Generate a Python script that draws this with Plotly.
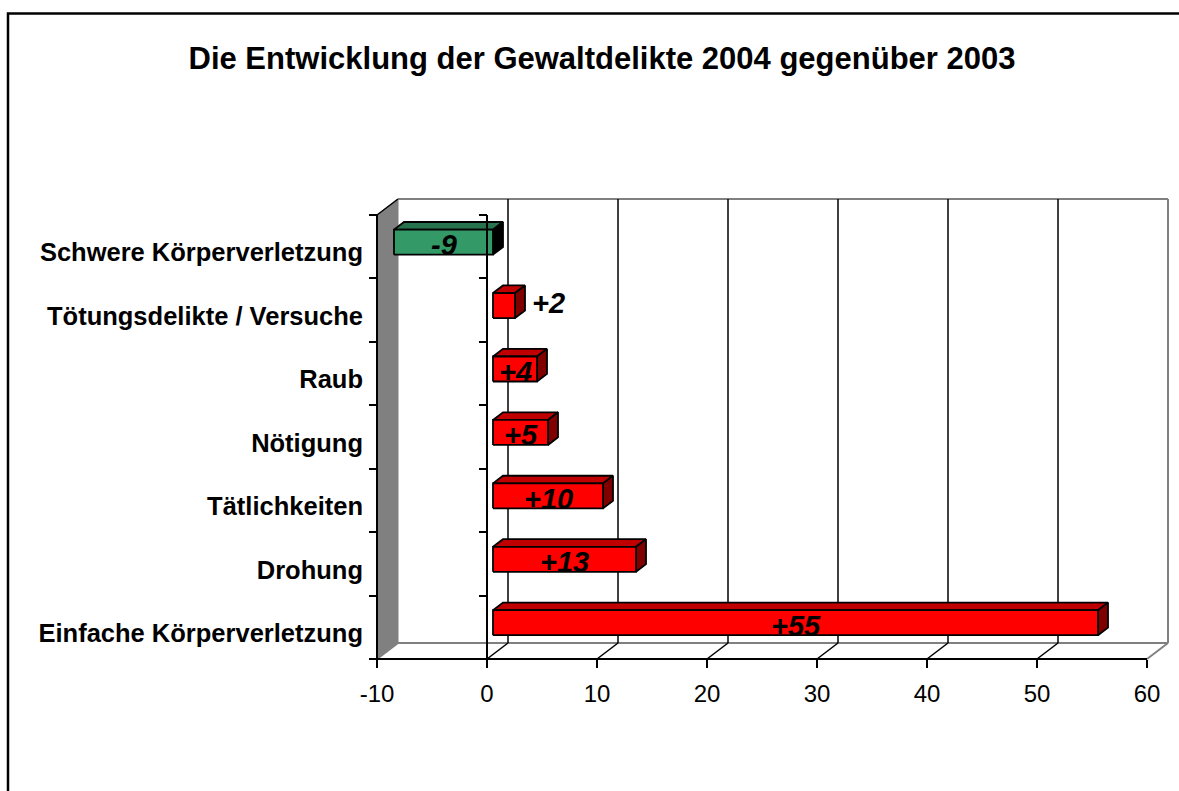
import plotly.graph_objects as go

# ---------------- data ----------------
categories = [
    "Einfache Körperverletzung",
    "Drohung",
    "Tätlichkeiten",
    "Nötigung",
    "Raub",
    "Tötungsdelikte / Versuche",
    "Schwere Körperverletzung",
]
values = [55, 13, 10, 5, 4, 2, -9]
value_labels = ["+55", "+13", "+10", "+5", "+4", "+2", "-9"]
x_ticks = [-10, 0, 10, 20, 30, 40, 50, 60]
title_text = "Die Entwicklung der Gewaltdelikte 2004 gegenüber 2003"

# ---------------- styling / geometry ----------------
FONT = "Arial, 'Liberation Sans', Helvetica, sans-serif"
W, H = 1179, 791
XMIN, XMAX = x_ticks[0], x_ticks[-1]
N = len(categories)
YMIN, YTOP = -0.5, N - 0.5

FRONT_LEFT_PX, FRONT_BOTTOM_PX = 377, 659
PXX = 11.0                       # px per x unit
PXY = 444.0 / N                  # px per category
DEPTH_PX = (21.0, 16.0)          # 3D depth offset (px)
PAD = 4
plot_l = FRONT_LEFT_PX - PAD
plot_r = int(FRONT_LEFT_PX + (XMAX - XMIN) * PXX + DEPTH_PX[0] + PAD)
plot_b = FRONT_BOTTOM_PX + PAD
plot_t = int(FRONT_BOTTOM_PX - N * PXY - DEPTH_PX[1] - PAD)

x_lo = XMIN - (FRONT_LEFT_PX - plot_l) / PXX
x_hi = XMIN + (plot_r - FRONT_LEFT_PX) / PXX
y_lo = YMIN - (plot_b - FRONT_BOTTOM_PX) / PXY
y_hi = YMIN + (FRONT_BOTTOM_PX - plot_t) / PXY

DX = DEPTH_PX[0] / PXX
DY = DEPTH_PX[1] / PXY
D0, D1 = 6.0 / 21.0, 16.0 / 21.0   # bar front/back depth fractions
HH = 12.5 / PXY                    # half bar height

RED, RED_TOP, RED_SIDE = "#FF0000", "#C00000", "#800000"
GRN, GRN_TOP, GRN_SIDE = "#339966", "#26734D", "#000000"
WALL = "#808080"

fig = go.Figure()


def poly(xs, ys, fill, line="black", width=1.8):
    fig.add_trace(go.Scatter(
        x=list(xs) + [xs[0]], y=list(ys) + [ys[0]], mode="lines",
        fill="toself", fillcolor=fill, line=dict(color=line, width=width),
        hoverinfo="skip", showlegend=False))


def segs(pairs, color, width):
    xs, ys = [], []
    for (a, b), (c, d) in pairs:
        xs += [a, c, None]
        ys += [b, d, None]
    fig.add_trace(go.Scatter(x=xs, y=ys, mode="lines",
                             line=dict(color=color, width=width),
                             hoverinfo="skip", showlegend=False))


# ---- walls ----
poly([XMIN, XMIN, XMIN + DX, XMIN + DX], [YMIN, YTOP, YTOP + DY, YMIN + DY],
     WALL, line=WALL, width=1)
# back wall outline (grey)
segs([((XMIN + DX, YTOP + DY), (XMAX + DX, YTOP + DY)),
      ((XMAX + DX, YTOP + DY), (XMAX + DX, YMIN + DY)),
      ((XMAX + DX, YMIN + DY), (XMIN + DX, YMIN + DY)),
      ((XMAX, YMIN), (XMAX + DX, YMIN + DY)),
      ((XMIN, YMIN), (XMIN + DX, YMIN + DY))], WALL, 2)
# gridlines on back wall and floor
inner = [t for t in x_ticks if XMIN < t < XMAX]
segs([((t + DX, YMIN + DY), (t + DX, YTOP + DY)) for t in inner]
     + [((t, YMIN), (t + DX, YMIN + DY)) for t in inner], "black", 1.5)
# top edge of side wall
segs([((XMIN, YTOP), (XMIN + DX, YTOP + DY))], "black", 1.5)

# ---- bars ----
for i, v in enumerate(values):
    x0, x1 = min(0, v), max(0, v)
    col, top, side = (RED, RED_TOP, RED_SIDE) if v >= 0 else (GRN, GRN_TOP, GRN_SIDE)
    fx0, fx1 = x0 + D0 * DX, x1 + D0 * DX
    bx0, bx1 = x0 + D1 * DX, x1 + D1 * DX
    yb, yt = i - HH + D0 * DY, i + HH + D0 * DY
    ddy = (D1 - D0) * DY
    poly([fx0, fx1, bx1, bx0], [yt, yt, yt + ddy, yt + ddy], top)
    poly([fx1, bx1, bx1, fx1], [yb, yb + ddy, yt + ddy, yt], side)
    poly([fx0, fx1, fx1, fx0], [yb, yb, yt, yt], col)

# ---- front axis lines ----
segs([((XMIN, YMIN), (XMIN, YTOP)), ((0, YMIN), (0, YTOP)),
      ((XMIN, YMIN), (XMAX, YMIN))], "black", 2)

# dummy traces for extra axes
fig.add_trace(go.Scatter(x=[None], y=[None], yaxis="y2", showlegend=False))
fig.add_trace(go.Scatter(x=[None], y=[None], yaxis="y3", showlegend=False))

# ---- data labels ----
LBL_FONT = dict(family=FONT, size=29, color="black", weight="bold", style="italic")
for i, (v, lab) in enumerate(zip(values, value_labels)):
    x0, x1 = min(0, v), max(0, v)
    yc = i + D0 * DY
    if abs(v) * PXX < 35:
        fig.add_annotation(x=x1 + D1 * DX, y=yc, text=lab, showarrow=False,
                           xanchor="left", yanchor="middle", xshift=5, yshift=3,
                           font=LBL_FONT)
    else:
        fig.add_annotation(x=(x0 + x1) / 2 + D0 * DX, y=yc, text=lab,
                           showarrow=False, xanchor="center", yanchor="middle",
                           yshift=-3, font=LBL_FONT)

# ---- outer chart border ----
pw, ph = plot_r - plot_l, plot_b - plot_t
fig.add_shape(type="rect", xref="paper", yref="paper",
              x0=(8 - plot_l) / pw, x1=(W + 20 - plot_l) / pw,
              y0=(plot_b - (H + 20)) / ph, y1=(plot_b - 13.5) / ph,
              line=dict(color="black", width=2.5), fillcolor="rgba(0,0,0,0)")

pos_left = (XMIN - x_lo) / (x_hi - x_lo)
pos_zero = (0 - x_lo) / (x_hi - x_lo)
pos_bottom = (YMIN - y_lo) / (y_hi - y_lo)
bounds = [k - 0.5 for k in range(N + 1)]

fig.update_layout(
    width=W, height=H, autosize=False,
    margin=dict(l=plot_l, r=W - plot_r, t=plot_t, b=H - plot_b, pad=0),
    paper_bgcolor="white", plot_bgcolor="rgba(0,0,0,0)",
    hovermode=False, showlegend=False,
    title=dict(text=title_text, x=602 / W, y=1 - 58 / H,
               xanchor="center", yanchor="middle", xref="container", yref="container",
               font=dict(family=FONT, size=31, color="black", weight="bold")),
    xaxis=dict(range=[x_lo, x_hi], anchor="free", position=pos_bottom,
               tickvals=x_ticks, ticktext=[str(t) for t in x_ticks],
               ticks="outside", ticklen=8, tickwidth=2, tickcolor="black",
               showline=False, showgrid=False, zeroline=False,
               tickfont=dict(family=FONT, size=24, color="black"),
               ticklabelstandoff=5, fixedrange=True),
    yaxis=dict(range=[y_lo, y_hi], anchor="free", position=pos_left,
               tickvals=[k - 0.09 for k in range(N)], ticktext=categories,
               ticks="", showline=False, showgrid=False, zeroline=False,
               tickfont=dict(family=FONT, size=25.5, color="black", weight="bold"),
               ticklabelstandoff=14, fixedrange=True),
    yaxis2=dict(range=[y_lo, y_hi], overlaying="y", anchor="free", position=pos_left,
                tickvals=bounds, ticks="outside", ticklen=8, tickwidth=2,
                tickcolor="black", showticklabels=False, showline=False,
                showgrid=False, zeroline=False, fixedrange=True),
    yaxis3=dict(range=[y_lo, y_hi], overlaying="y", anchor="free", position=pos_zero,
                side="left",
                tickvals=bounds, ticks="outside", ticklen=8, tickwidth=2,
                tickcolor="black", showticklabels=False, showline=False,
                showgrid=False, zeroline=False, fixedrange=True),
)

fig.write_html("out.html", config={"displayModeBar": False},
               post_script="document.body.style.margin='0px';")
